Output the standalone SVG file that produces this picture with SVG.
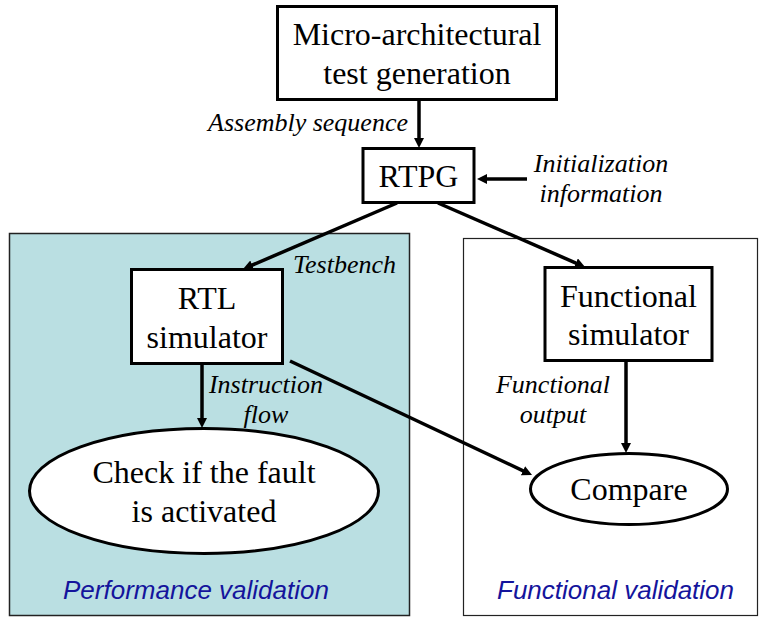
<svg xmlns="http://www.w3.org/2000/svg" width="762" height="618" viewBox="0 0 762 618">
<defs>
<style>
.node{fill:#fff;stroke:#000;stroke-width:3}
.nt{font-family:"Liberation Serif","Times New Roman",serif;font-size:32px;fill:#000;text-anchor:middle}
.lbl{font-family:"Liberation Serif","Times New Roman",serif;font-size:26px;font-style:italic;fill:#000}
.pl{font-family:"Liberation Sans",Arial,sans-serif;font-size:26px;font-style:italic;fill:#14149c}
.conn{stroke:#000;stroke-width:3.5;fill:none;marker-end:url(#ah)}
</style>
<marker id="ah" viewBox="0 0 10 10" refX="2" refY="5" markerWidth="10" markerHeight="10" markerUnits="userSpaceOnUse" orient="auto">
<path d="M0,0 L10,5 L0,10 z" fill="#000"/>
</marker>
</defs>
<rect width="762" height="618" fill="#fff"/>
<g id="panel-performance">
<rect x="9.5" y="233.5" width="400" height="382" fill="#badfe2" stroke="#222" stroke-width="1.5"/>
<text class="pl" x="63" y="599">Performance validation</text>
</g>
<g id="panel-functional">
<rect x="463.5" y="238.5" width="294" height="377" fill="#fff" stroke="#222" stroke-width="1.2"/>
<text class="pl" x="497" y="599">Functional validation</text>
</g>
<g id="connectors">
<line class="conn" x1="419" y1="100" x2="419" y2="140"/>
<line class="conn" x1="527" y1="179" x2="485" y2="179"/>
<line class="conn" x1="397" y1="203" x2="250.4" y2="265.9"/>
<line class="conn" x1="438" y1="203" x2="577.7" y2="263.8"/>
<line class="conn" x1="202" y1="363" x2="202" y2="420"/>
<line class="conn" x1="290" y1="361" x2="524.8" y2="471.6"/>
<line class="conn" x1="626" y1="361" x2="626" y2="445"/>
<text class="lbl" x="408" y="131" text-anchor="end">Assembly sequence</text>
<text class="lbl" x="601" y="172" text-anchor="middle">Initialization</text>
<text class="lbl" x="601" y="202" text-anchor="middle">information</text>
<text class="lbl" x="293" y="273">Testbench</text>
<text class="lbl" x="266" y="393" text-anchor="middle">Instruction</text>
<text class="lbl" x="266" y="423" text-anchor="middle">flow</text>
<text class="lbl" x="553" y="393" text-anchor="middle">Functional</text>
<text class="lbl" x="553" y="423" text-anchor="middle">output</text>
</g>
<g id="node-microarch">
<rect class="node" x="277.5" y="6.5" width="279" height="93"/>
<text class="nt" x="417" y="45">Micro-architectural</text>
<text class="nt" x="417" y="84">test generation</text>
</g>
<g id="node-rtpg">
<rect class="node" x="363" y="148.5" width="111" height="54"/>
<text class="nt" x="418.5" y="187">RTPG</text>
</g>
<g id="node-rtl">
<rect class="node" x="131.5" y="269.5" width="151" height="94"/>
<text class="nt" x="207" y="309">RTL</text>
<text class="nt" x="207" y="348">simulator</text>
</g>
<g id="node-funcsim">
<rect class="node" x="545" y="267.5" width="167" height="93"/>
<text class="nt" x="628.5" y="307">Functional</text>
<text class="nt" x="628.5" y="345">simulator</text>
</g>
<g id="node-check">
<ellipse class="node" cx="204" cy="491" rx="174.5" ry="62.5"/>
<text class="nt" x="204" y="483">Check if the fault</text>
<text class="nt" x="204" y="522">is activated</text>
</g>
<g id="node-compare">
<ellipse class="node" cx="629" cy="489" rx="98.5" ry="35.5"/>
<text class="nt" x="629" y="500">Compare</text>
</g>
</svg>
